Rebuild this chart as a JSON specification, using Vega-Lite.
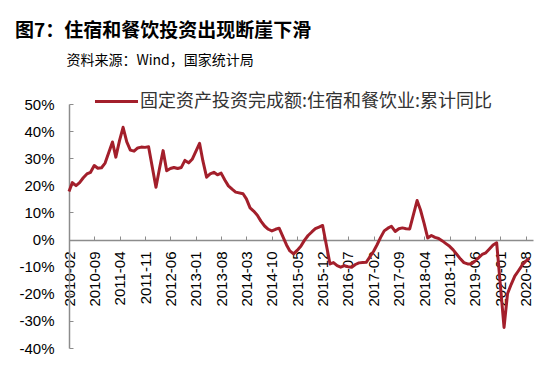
{
  "$schema": "https://vega.github.io/schema/vega-lite/v6.json",
  "autosize": "none",
  "width": 464,
  "height": 244,
  "padding": {"left": 69, "top": 104, "right": 17, "bottom": 18},
  "background": "white",
  "title": {
    "text": "图7：住宿和餐饮投资出现断崖下滑",
    "subtitle": "\u200b\u3000\u3000\u3000\u00a0\u00a0\u00a0资料来源：Wind，国家统计局",
    "anchor": "start",
    "frame": "group",
    "dx": -54,
    "offset": 10,
    "font": "Noto Sans CJK SC",
    "fontSize": 19,
    "fontWeight": "bold",
    "color": "#000000",
    "subtitleFont": "Noto Sans CJK SC",
    "subtitleFontSize": 14,
    "subtitleColor": "#000000",
    "subtitlePadding": 13
  },
  "data": {
    "values": [
      {"date": "2010-02-01", "value": 17.7},
      {"date": "2010-03-01", "value": 21.0},
      {"date": "2010-04-01", "value": 19.9},
      {"date": "2010-05-01", "value": 21.0},
      {"date": "2010-06-01", "value": 22.8},
      {"date": "2010-07-01", "value": 24.2},
      {"date": "2010-08-01", "value": 24.8},
      {"date": "2010-09-01", "value": 27.3},
      {"date": "2010-10-01", "value": 26.3},
      {"date": "2010-11-01", "value": 26.5},
      {"date": "2010-12-01", "value": 28.2},
      {"date": "2011-02-01", "value": 36.0},
      {"date": "2011-03-01", "value": 30.4},
      {"date": "2011-04-01", "value": 36.5},
      {"date": "2011-05-01", "value": 41.4},
      {"date": "2011-06-01", "value": 36.0},
      {"date": "2011-07-01", "value": 33.0},
      {"date": "2011-08-01", "value": 32.6},
      {"date": "2011-09-01", "value": 33.8},
      {"date": "2011-10-01", "value": 34.1},
      {"date": "2011-11-01", "value": 34.0},
      {"date": "2011-12-01", "value": 34.2},
      {"date": "2012-02-01", "value": 19.3},
      {"date": "2012-03-01", "value": 26.0},
      {"date": "2012-04-01", "value": 32.8},
      {"date": "2012-05-01", "value": 25.4},
      {"date": "2012-06-01", "value": 26.2},
      {"date": "2012-07-01", "value": 26.6},
      {"date": "2012-08-01", "value": 26.2},
      {"date": "2012-09-01", "value": 26.6},
      {"date": "2012-10-01", "value": 29.2},
      {"date": "2012-11-01", "value": 28.3},
      {"date": "2012-12-01", "value": 29.6},
      {"date": "2013-02-01", "value": 35.5},
      {"date": "2013-03-01", "value": 29.0},
      {"date": "2013-04-01", "value": 23.0},
      {"date": "2013-05-01", "value": 24.2},
      {"date": "2013-06-01", "value": 24.8},
      {"date": "2013-07-01", "value": 23.9},
      {"date": "2013-08-01", "value": 24.5},
      {"date": "2013-09-01", "value": 22.0},
      {"date": "2013-10-01", "value": 19.8},
      {"date": "2013-11-01", "value": 18.6},
      {"date": "2013-12-01", "value": 17.5},
      {"date": "2014-02-01", "value": 16.9},
      {"date": "2014-03-01", "value": 15.0},
      {"date": "2014-04-01", "value": 11.7},
      {"date": "2014-05-01", "value": 10.5},
      {"date": "2014-06-01", "value": 9.0},
      {"date": "2014-07-01", "value": 6.8},
      {"date": "2014-08-01", "value": 5.0},
      {"date": "2014-09-01", "value": 3.8},
      {"date": "2014-10-01", "value": 3.2},
      {"date": "2014-11-01", "value": 3.8},
      {"date": "2014-12-01", "value": 4.2},
      {"date": "2015-02-01", "value": -2.0},
      {"date": "2015-03-01", "value": -4.2},
      {"date": "2015-04-01", "value": -5.3},
      {"date": "2015-05-01", "value": -4.0},
      {"date": "2015-06-01", "value": -2.5},
      {"date": "2015-07-01", "value": -0.3},
      {"date": "2015-08-01", "value": 1.5},
      {"date": "2015-09-01", "value": 2.8},
      {"date": "2015-10-01", "value": 4.0},
      {"date": "2015-11-01", "value": 4.6},
      {"date": "2015-12-01", "value": 5.2},
      {"date": "2016-02-01", "value": -9.0},
      {"date": "2016-03-01", "value": -8.5},
      {"date": "2016-04-01", "value": -9.6},
      {"date": "2016-05-01", "value": -10.2},
      {"date": "2016-06-01", "value": -9.6},
      {"date": "2016-07-01", "value": -10.0},
      {"date": "2016-08-01", "value": -10.2},
      {"date": "2016-09-01", "value": -9.2},
      {"date": "2016-10-01", "value": -8.6},
      {"date": "2016-11-01", "value": -8.5},
      {"date": "2016-12-01", "value": -8.4},
      {"date": "2017-02-01", "value": -4.3},
      {"date": "2017-03-01", "value": -2.0},
      {"date": "2017-04-01", "value": 0.8},
      {"date": "2017-05-01", "value": 3.2},
      {"date": "2017-06-01", "value": 4.2},
      {"date": "2017-07-01", "value": 4.9},
      {"date": "2017-08-01", "value": 3.0},
      {"date": "2017-09-01", "value": 4.0},
      {"date": "2017-10-01", "value": 4.3},
      {"date": "2017-11-01", "value": 4.0},
      {"date": "2017-12-01", "value": 3.9},
      {"date": "2018-02-01", "value": 14.4},
      {"date": "2018-03-01", "value": 11.0},
      {"date": "2018-04-01", "value": 6.0},
      {"date": "2018-05-01", "value": 0.6},
      {"date": "2018-06-01", "value": 1.5},
      {"date": "2018-07-01", "value": 0.8},
      {"date": "2018-08-01", "value": 0.4},
      {"date": "2018-09-01", "value": -0.5},
      {"date": "2018-10-01", "value": -1.5},
      {"date": "2018-11-01", "value": -2.5},
      {"date": "2018-12-01", "value": -3.8},
      {"date": "2019-02-01", "value": -7.2},
      {"date": "2019-03-01", "value": -8.5},
      {"date": "2019-04-01", "value": -9.0},
      {"date": "2019-05-01", "value": -9.0},
      {"date": "2019-06-01", "value": -8.0},
      {"date": "2019-07-01", "value": -6.8},
      {"date": "2019-08-01", "value": -5.5},
      {"date": "2019-09-01", "value": -4.9},
      {"date": "2019-10-01", "value": -3.5},
      {"date": "2019-11-01", "value": -2.0},
      {"date": "2019-12-01", "value": -1.2},
      {"date": "2020-02-01", "value": -32.4},
      {"date": "2020-03-01", "value": -20.0},
      {"date": "2020-04-01", "value": -16.5},
      {"date": "2020-05-01", "value": -13.5},
      {"date": "2020-06-01", "value": -11.5},
      {"date": "2020-07-01", "value": -9.5},
      {"date": "2020-08-01", "value": -8.0},
      {"date": "2020-09-01", "value": -7.0}
    ]
  },
  "mark": {"type": "line", "strokeWidth": 3, "strokeJoin": "round"},
  "encoding": {
    "x": {
      "field": "date",
      "type": "temporal",
      "scale": {
        "type": "utc",
        "domain": [
          {"year": 2010, "month": 2, "date": 1, "utc": true},
          {"year": 2020, "month": 10, "date": 1, "utc": true}
        ]
      },
      "axis": {
        "title": null,
        "values": [
          {"year": 2010, "month": 2, "date": 1, "utc": true},
          {"year": 2010, "month": 9, "date": 1, "utc": true},
          {"year": 2011, "month": 4, "date": 1, "utc": true},
          {"year": 2011, "month": 11, "date": 1, "utc": true},
          {"year": 2012, "month": 6, "date": 1, "utc": true},
          {"year": 2013, "month": 1, "date": 1, "utc": true},
          {"year": 2013, "month": 8, "date": 1, "utc": true},
          {"year": 2014, "month": 3, "date": 1, "utc": true},
          {"year": 2014, "month": 10, "date": 1, "utc": true},
          {"year": 2015, "month": 5, "date": 1, "utc": true},
          {"year": 2015, "month": 12, "date": 1, "utc": true},
          {"year": 2016, "month": 7, "date": 1, "utc": true},
          {"year": 2017, "month": 2, "date": 1, "utc": true},
          {"year": 2017, "month": 9, "date": 1, "utc": true},
          {"year": 2018, "month": 4, "date": 1, "utc": true},
          {"year": 2018, "month": 11, "date": 1, "utc": true},
          {"year": 2019, "month": 6, "date": 1, "utc": true},
          {"year": 2020, "month": 1, "date": 1, "utc": true},
          {"year": 2020, "month": 8, "date": 1, "utc": true}
        ],
        "labelExpr": "utcFormat(datum.value, '%Y-%m')",
        "labelAngle": -90,
        "labelFont": "Liberation Sans",
        "labelFontSize": 15,
        "labelColor": "#000000",
        "labelPadding": 15,
        "labelOverlap": false,
        "labelFlush": false,
        "offset": -108,
        "grid": false,
        "domainColor": "#8c8c8c",
        "domainWidth": 1.5,
        "tickColor": "#8c8c8c",
        "tickWidth": 1,
        "tickSize": -4
      }
    },
    "y": {
      "field": "value",
      "type": "quantitative",
      "scale": {"domain": [-40, 50], "nice": false, "zero": false},
      "axis": {
        "title": null,
        "values": [-40, -30, -20, -10, 0, 10, 20, 30, 40, 50],
        "labelExpr": "datum.value + '%'",
        "labelFont": "Liberation Sans",
        "labelFontSize": 15,
        "labelColor": "#000000",
        "labelPadding": 19,
        "grid": false,
        "domainColor": "#8c8c8c",
        "domainWidth": 1.5,
        "tickColor": "#8c8c8c",
        "tickWidth": 1,
        "tickSize": -4
      }
    },
    "color": {
      "datum": "固定资产投资完成额:住宿和餐饮业:累计同比",
      "type": "nominal",
      "scale": {"range": ["#A31F2B"]},
      "legend": {
        "title": null,
        "orient": "none",
        "legendX": 24,
        "legendY": -26,
        "symbolType": "stroke",
        "symbolSize": 1850,
        "symbolStrokeWidth": 3,
        "labelFont": "Noto Sans CJK SC",
        "labelFontSize": 18,
        "labelColor": "#333333",
        "labelOffset": 0,
        "labelLimit": 0,
        "padding": 0
      }
    }
  },
  "config": {"view": {"stroke": null}}
}
